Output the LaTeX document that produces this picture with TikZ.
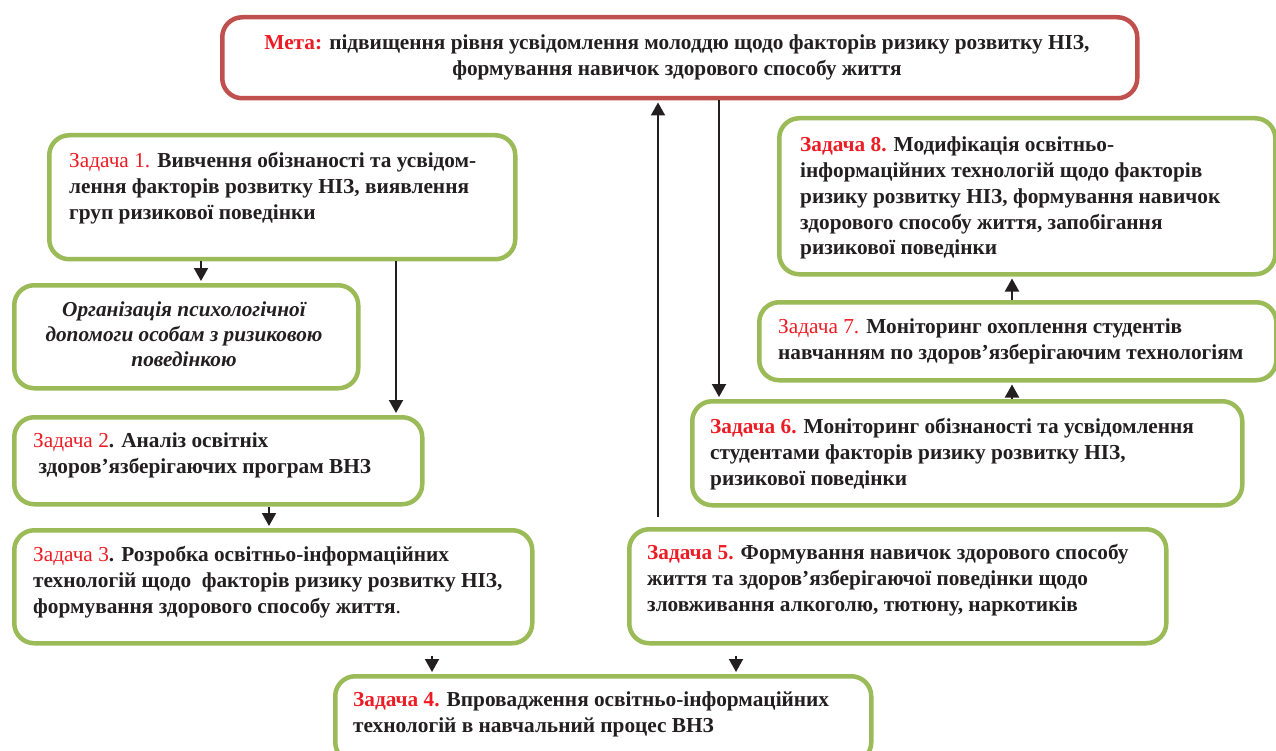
\documentclass[tikz,border=0pt]{standalone}
\usepackage{fontspec}
\setmainfont{Liberation Serif}
\usetikzlibrary{arrows.meta}
\definecolor{gborder}{HTML}{9BBB59}
\definecolor{rborder}{HTML}{C0504D}
\definecolor{rtext}{HTML}{ED1C24}
\definecolor{btext}{HTML}{231F20}
\newcommand{\zd}[1]{{\color{rtext}#1}}
\begin{document}
\begin{tikzpicture}[x=1pt,y=-1pt,
  gbox/.style={draw=gborder, line width=4.5pt, rounded corners=20pt, fill=white, inner sep=0pt, anchor=north west},
  rbox/.style={draw=rborder, line width=4.5pt, rounded corners=20pt, fill=white, inner sep=0pt, anchor=north west},
  txt/.style={anchor=north west, inner sep=0pt, align=left, text=btext, font=\fontsize{21.3}{25.8}\selectfont\bfseries},
  arr/.style={draw=btext, line width=2pt, -{Triangle[width=14pt,length=13pt]}, shorten >=2pt}
]
\useasboundingbox (0,0) rectangle (1276,751);
% boxes
\node[rbox, minimum width=915pt, minimum height=81pt] (meta) at (220,15) {};
\node[gbox, minimum width=466pt, minimum height=124pt] (t1) at (47,133) {};
\node[gbox, minimum width=344pt, minimum height=103pt] (org) at (12,283) {};
\node[gbox, minimum width=408pt, minimum height=87pt] (t2) at (12,415) {};
\node[gbox, minimum width=518pt, minimum height=113pt] (t3) at (12,528) {};
\node[gbox, minimum width=537pt, minimum height=114pt] (t5) at (627,527) {};
\node[gbox, minimum width=536pt, minimum height=86pt] (t4) at (333,674) {};
\node[gbox, minimum width=550pt, minimum height=104pt] (t6) at (690,399) {};
\node[gbox, minimum width=517pt, minimum height=78pt] (t7) at (757,300) {};
\node[gbox, minimum width=496pt, minimum height=156pt] (t8) at (777,116) {};
% texts
\node[txt, anchor=north, align=center] (metatxt) at (677,31)
  {\strut\zd{Мета:} підвищення рівня усвідомлення молоддю щодо факторів ризику розвитку НІЗ,\\
   формування навичок здорового способу життя};
\node[txt] (t1txt) at (69,149.5)
  {\strut\zd{\mdseries Задача 1.} Вивчення обізнаності та усвідом-\\
   лення факторів розвитку НІЗ, виявлення\\
   груп ризикової поведінки};
\node[txt, anchor=north, align=center, font=\fontsize{21.3}{25}\selectfont\bfseries\itshape] (orgtxt) at (184,298.5)
  {\strut Організація психологічної\\
   допомоги особам з ризиковою\\
   поведінкою};
\node[txt] (t2txt) at (33,429.5)
  {\strut\zd{\mdseries Задача 2}. Аналіз освітніх\\
   \ здоров’язберігаючих програм ВНЗ};
\node[txt] (t3txt) at (33,543.5)
  {\strut\zd{\mdseries Задача 3}. Розробка освітньо-інформаційних\\
   технологій щодо\ \ факторів ризику розвитку НІЗ,\\
   формування здорового способу життя{\mdseries .}};
\node[txt] (t5txt) at (647,541.5)
  {\strut\zd{Задача 5.} Формування навичок здорового способу\\
   життя та здоров’язберігаючої поведінки щодо\\
   зловживання алкоголю, тютюну, наркотиків};
\node[txt] (t4txt) at (353,688.5)
  {\strut\zd{Задача 4.} Впровадження освітньо-інформаційних\\
   технологій в навчальний процес ВНЗ};
\node[txt] (t6txt) at (710,415.5)
  {\strut\zd{Задача 6.} Моніторинг обізнаності та усвідомлення\\
   студентами факторів ризику розвитку НІЗ,\\
   ризикової поведінки};
\node[txt] (t7txt) at (778,315.5)
  {\strut\zd{\mdseries Задача 7.} Моніторинг охоплення студентів\\
   навчанням по здоров’язберігаючим технологіям};
\node[txt] (t8txt) at (800,133.5)
  {\strut\zd{Задача 8.} Модифікація освітньо-\\
   інформаційних технологій щодо факторів\\
   ризику розвитку НІЗ, формування навичок\\
   здорового способу життя, запобігання\\
   ризикової поведінки};
% arrow columns
\coordinate (c1) at (201,0);
\coordinate (c2) at (396,0);
\coordinate (c3) at (269,0);
\coordinate (c4) at (432,0);
\coordinate (c5) at (736,0);
\coordinate (c6) at (658,0);
\coordinate (c7) at (719,0);
\coordinate (c8) at (1012,0);
% arrows
\draw[arr] (t1.south -| c1) -- (org.north -| c1);
\draw[arr] (t1.south -| c2) -- (t2.north -| c2);
\draw[arr] (t2.south -| c3) -- (t3.north -| c3);
\draw[arr, shorten <=10pt] (t3.south -| c4) -- (t4.north -| c4);
\draw[arr, shorten <=10pt] (t5.south -| c5) -- (t4.north -| c5);
\draw[arr, shorten <=10pt] (t5.north -| c6) -- (meta.south -| c6);
\draw[arr] (meta.south -| c7) -- (t6.north -| c7);
\draw[arr] (t6.north -| c8) -- (t7.south -| c8);
\draw[arr] (t7.north -| c8) -- (t8.south -| c8);
\end{tikzpicture}
\end{document}
